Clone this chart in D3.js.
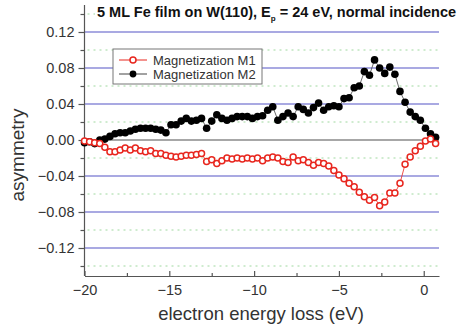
<!DOCTYPE html>
<html>
<head>
<meta charset="utf-8">
<script src="https://cdn.jsdelivr.net/npm/d3@7"></script>
<style>
  html, body { margin: 0; padding: 0; background: #fff; }
  svg { display: block; font-family: "Liberation Sans", Arial, sans-serif; }
</style>
</head>
<body>
<svg id="chart" width="462" height="333"></svg>
<script>
// Energy-loss grid (eV), 0.3 eV steps
const energy = d3.range(70).map(i => +(-20 + i * 0.3).toFixed(1));

// Spin asymmetry for the two magnetization directions
const m1 = [
  -0.001, -0.002, -0.003, -0.004, -0.008, -0.013, -0.013, -0.011, -0.009, -0.011,
  -0.009, -0.012, -0.013, -0.012, -0.015, -0.015, -0.017, -0.018, -0.019, -0.018,
  -0.017, -0.017, -0.016, -0.015, -0.024, -0.022, -0.026, -0.023, -0.020, -0.021,
  -0.020, -0.021, -0.020, -0.021, -0.020, -0.023, -0.020, -0.019, -0.020, -0.024,
  -0.025, -0.019, -0.023, -0.022, -0.025, -0.028, -0.025, -0.026, -0.029, -0.034,
  -0.039, -0.043, -0.048, -0.052, -0.058, -0.063, -0.067, -0.064, -0.073, -0.069,
  -0.059, -0.059, -0.048, -0.027, -0.019, -0.012, -0.007, -0.001, 0.001, -0.004
];
const m2 = [
  -0.003, -0.002, -0.004, 0.000, 0.001, 0.004, 0.007, 0.008, 0.008, 0.010,
  0.012, 0.013, 0.013, 0.013, 0.012, 0.011, 0.008, 0.017, 0.017, 0.021,
  0.024, 0.021, 0.022, 0.024, 0.013, 0.021, 0.028, 0.024, 0.022, 0.024,
  0.026, 0.026, 0.026, 0.024, 0.026, 0.027, 0.033, 0.037, 0.022, 0.026,
  0.030, 0.026, 0.037, 0.034, 0.030, 0.036, 0.041, 0.033, 0.037, 0.038,
  0.037, 0.046, 0.047, 0.058, 0.060, 0.076, 0.072, 0.089, 0.080, 0.074,
  0.081, 0.073, 0.054, 0.042, 0.031, 0.026, 0.022, 0.013, 0.007, 0.003
];

const seriesNames = ["Magnetization M1", "Magnetization M2"];
const xTicks = [-20, -15, -10, -5, 0];
const xMinorTicks = [-17.5, -12.5, -7.5, -2.5];
const yTicks = [0.12, 0.08, 0.04, 0.00, -0.04, -0.08, -0.12];
const yMinorTicks = [0.14, 0.10, 0.06, 0.02, -0.02, -0.06, -0.10, -0.14];

const svg = d3.select("#chart");
const x = d3.scaleLinear().domain([-20, 0.9]).range([84.5, 439]);
const y = d3.scaleLinear().domain([-0.15, 0.15]).range([275, 5]);

const red = "#e8261e";
const axisColor = "#555";

// Grid: dashed green minor lines, blue major lines, grey zero line
const grid = svg.append("g");
grid.selectAll("line.minor").data(yMinorTicks).join("line")
  .attr("x1", x.range()[0] + 3).attr("x2", x.range()[1])
  .attr("y1", d => y(d)).attr("y2", d => y(d))
  .attr("stroke", "#9fd89f").attr("stroke-width", 1)
  .attr("stroke-dasharray", "2,4");
grid.selectAll("line.major").data(yTicks).join("line")
  .attr("x1", x.range()[0]).attr("x2", x.range()[1])
  .attr("y1", d => y(d)).attr("y2", d => y(d))
  .attr("stroke", d => d === 0 ? "#8a8a8a" : "#8c8cd8")
  .attr("stroke-width", 1.4);

// Left axis with outward ticks
const yAxis = svg.append("g").attr("transform", `translate(${x.range()[0]},0)`)
  .call(d3.axisLeft(y).tickValues(yTicks).tickFormat(d3.format(".2f")).tickSize(6).tickPadding(4));
svg.append("g").attr("transform", `translate(${x.range()[0]},0)`)
  .call(d3.axisLeft(y).tickValues(yMinorTicks).tickFormat("").tickSize(4))
  .call(g => g.select(".domain").remove());

// Bottom axis with inward ticks
const xAxis = svg.append("g").attr("transform", `translate(0,${y.range()[0] + 1})`)
  .call(d3.axisBottom(x).tickValues(xTicks).tickFormat(d3.format("d")).tickSizeInner(-5).tickSizeOuter(0).tickPadding(9));
svg.append("g").attr("transform", `translate(0,${y.range()[0] + 1})`)
  .call(d3.axisBottom(x).tickValues(xMinorTicks).tickFormat("").tickSizeInner(-3).tickSizeOuter(0))
  .call(g => g.select(".domain").remove());

svg.selectAll(".domain, .tick line").attr("stroke", axisColor).attr("stroke-width", 1.2);
svg.selectAll(".tick text").attr("fill", "#333").attr("font-size", 14.5);
yAxis.select(".domain").attr("d", `M0,${y.range()[1]}V${y.range()[0] + 1}`);

// Curves
const pts1 = energy.map((e, i) => [e, m1[i]]);
const pts2 = energy.map((e, i) => [e, m2[i]]);
const line = d3.line().x(d => x(d[0])).y(d => y(d[1]));

svg.append("path").datum(pts2).attr("d", line)
  .attr("fill", "none").attr("stroke", "#444").attr("stroke-width", 0.8);
svg.append("g").selectAll("circle").data(pts2).join("circle")
  .attr("cx", d => x(d[0])).attr("cy", d => y(d[1])).attr("r", 3.8)
  .attr("fill", "#000");

svg.append("path").datum(pts1).attr("d", line)
  .attr("fill", "none").attr("stroke", red).attr("stroke-width", 0.8);
svg.append("g").selectAll("circle").data(pts1).join("circle")
  .attr("cx", d => x(d[0])).attr("cy", d => y(d[1])).attr("r", 3)
  .attr("fill", "#fff").attr("stroke", red).attr("stroke-width", 1.5);

// Title on a white band
const titleBand = svg.append("rect").attr("fill", "#fff");
const title = svg.append("text").attr("x", 97).attr("y", 17)
  .attr("font-size", 14.5).attr("font-weight", "bold").attr("fill", "#111");
title.append("tspan").text("5 ML Fe film on W(110), E");
title.append("tspan").attr("font-size", 8).attr("dy", 4).text("p");
title.append("tspan").attr("dy", -4).text(" = 24 eV, normal incidence");
const tb = title.node().getBBox();
titleBand.attr("x", tb.x - 2).attr("y", tb.y).attr("width", tb.width + 4).attr("height", tb.height);

// Legend
const legend = svg.append("g").attr("transform", "translate(113,49)");
legend.append("rect").attr("width", 149).attr("height", 35)
  .attr("fill", "#fff").attr("stroke", "#777").attr("stroke-width", 1);
seriesNames.forEach((name, i) => {
  const row = legend.append("g").attr("transform", `translate(0,${11 + i * 14})`);
  const c = i === 0 ? red : "#000";
  row.append("line").attr("x1", 6).attr("x2", 34).attr("stroke", i === 0 ? red : "#444").attr("stroke-width", 1);
  row.append("circle").attr("cx", 20).attr("r", i === 0 ? 3 : 3.4)
    .attr("fill", i === 0 ? "#fff" : "#000").attr("stroke", c).attr("stroke-width", i === 0 ? 1.5 : 0);
  row.append("text").attr("x", 40).attr("y", 4.5).attr("font-size", 13).attr("fill", "#333").text(name);
});

// Axis titles
svg.append("text").attr("transform", "translate(24,155) rotate(-90)")
  .attr("text-anchor", "middle").attr("font-size", 19).attr("fill", "#333").text("asymmetry");
svg.append("text").attr("x", 261).attr("y", 320)
  .attr("text-anchor", "middle").attr("font-size", 18.5).attr("fill", "#333").text("electron energy loss (eV)");
</script>
</body>
</html>
